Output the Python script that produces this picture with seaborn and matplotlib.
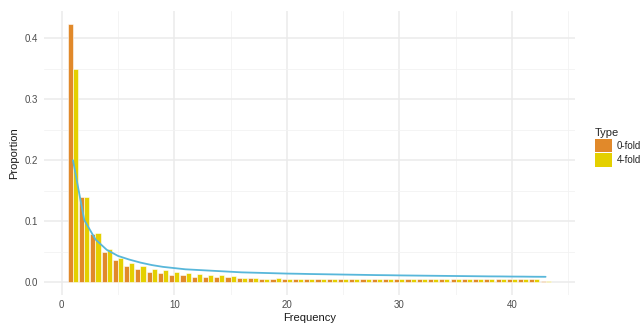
import matplotlib
matplotlib.use("Agg")
import matplotlib.pyplot as plt
import seaborn as sns
import pandas as pd
import numpy as np

# Site frequency spectrum
frequency = list(range(1, 44))

zero_fold = [0.424, 0.140, 0.079, 0.050, 0.036, 0.027, 0.022, 0.017, 0.015, 0.012,
             0.0115, 0.009, 0.009, 0.0088, 0.0077, 0.0066, 0.006, 0.0055, 0.0055, 0.005,
             0.005, 0.005, 0.005, 0.005, 0.005, 0.0045, 0.0045, 0.005, 0.0045, 0.0045,
             0.0045, 0.0045, 0.0045, 0.0045, 0.0045, 0.0045, 0.0045, 0.0045, 0.0045, 0.0045,
             0.0045, 0.0045, 0.002]

four_fold = [0.350, 0.139, 0.081, 0.054, 0.040, 0.031, 0.027, 0.022, 0.020, 0.017,
             0.015, 0.013, 0.012, 0.011, 0.0099, 0.0066, 0.006, 0.0055, 0.006, 0.0058,
             0.0058, 0.0058, 0.0058, 0.0058, 0.0058, 0.0055, 0.0058, 0.0055, 0.0055, 0.0055,
             0.0055, 0.0055, 0.0055, 0.0055, 0.0055, 0.0055, 0.0055, 0.0055, 0.0055, 0.0055,
             0.0055, 0.0055, 0.002]

# neutral expectation curve
expected = [0.200, 0.102, 0.070, 0.053, 0.043, 0.037, 0.032, 0.028, 0.025, 0.023,
            0.021, 0.020, 0.019, 0.018, 0.017, 0.016, 0.0155, 0.015, 0.0145, 0.014,
            0.0137, 0.0133, 0.013, 0.0127, 0.0124, 0.0121, 0.0118, 0.0115, 0.0113, 0.011,
            0.0108, 0.0106, 0.0104, 0.0102, 0.0100, 0.0098, 0.0096, 0.0094, 0.0093, 0.0091,
            0.0090, 0.0088, 0.0087]

type_labels = ["0-fold", "4-fold"]
type_colors = ["#E1892A", "#E4D000"]
line_color = "#58B7DA"

df = pd.DataFrame({
    "Frequency": frequency * 2,
    "Proportion": zero_fold + four_fold,
    "Type": [type_labels[0]] * len(frequency) + [type_labels[1]] * len(frequency),
})

sns.set_theme(style="white")
plt.rcParams["font.family"] = ["Liberation Sans", "DejaVu Sans"]

fig = plt.figure(figsize=(6.43, 3.23), dpi=100)
ax = fig.add_axes([0.068, 0.087, 0.826, 0.879])

sns.barplot(data=df, x="Frequency", y="Proportion", hue="Type", native_scale=True,
            width=0.9, palette=type_colors, saturation=1, edgecolor="white",
            linewidth=0.4, ax=ax, legend=True)
sns.lineplot(x=frequency, y=expected, color=line_color, lw=1.3, ax=ax)

ax.set_xlim(-1.6, 45.6)
ax.set_ylim(-0.021, 0.445)
ax.set_xticks([0, 10, 20, 30, 40])
ax.set_xticks([5, 15, 25, 35, 45], minor=True)
ax.set_yticks([0.0, 0.1, 0.2, 0.3, 0.4])
ax.set_yticks([0.05, 0.15, 0.25, 0.35], minor=True)
ax.set_yticklabels(["0.0", "0.1", "0.2", "0.3", "0.4"])
ax.grid(True, which="major", color="#EBEBEB", lw=1.1)
ax.grid(True, which="minor", color="#F2F2F2", lw=0.6)
ax.set_axisbelow(True)
for s in ax.spines.values():
    s.set_visible(False)
ax.tick_params(axis="both", which="both", length=0, labelsize=7, labelcolor="#4D4D4D", pad=4)
ax.set_xlabel("Frequency", fontsize=8, color="#1A1A1A", labelpad=2)
ax.set_ylabel("Proportion", fontsize=8, color="#1A1A1A", labelpad=4)

handles, labels = ax.get_legend_handles_labels()
for h in handles[:2]:
    h.set_edgecolor("none")
leg = ax.legend(handles[:2], labels[:2], title="Type", loc="center left",
                bbox_to_anchor=(1.03, 0.52), frameon=False, fontsize=7,
                title_fontsize=8, handlelength=1.8, handleheight=1.8,
                handletextpad=0.5, labelspacing=0.05, borderaxespad=0)
leg._legend_box.align = "left"

fig.savefig("out.png", dpi=100)
